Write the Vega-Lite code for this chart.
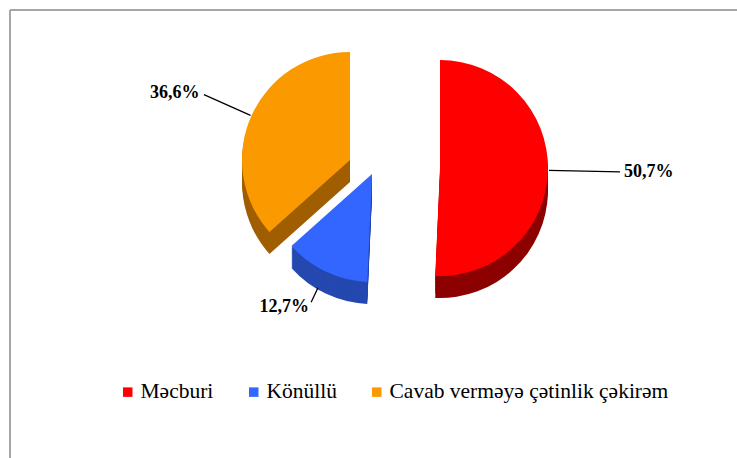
{
  "$schema": "https://vega.github.io/schema/vega-lite/v6.json",
  "width": 737,
  "height": 458,
  "autosize": {"type": "fit", "contains": "padding"},
  "padding": {"left": 10, "top": 10, "right": 0, "bottom": 0},
  "background": "white",
  "view": {"stroke": "#a6a6a6", "strokeWidth": 2, "strokeDash": [727, 1175, 448, 0]},
  "config": {
    "legend": {
      "orient": "none",
      "legendX": 107,
      "legendY": 371,
      "direction": "horizontal",
      "symbolType": "square",
      "symbolSize": 90,
      "symbolStrokeWidth": 0,
      "labelFont": "Liberation Serif",
      "labelFontSize": 21.5,
      "labelColor": "#000000",
      "labelLimit": 400,
      "labelOffset": 2,
      "columnPadding": 29
    }
  },
  "data": {
    "values": [
      {"category": "Məcburi", "value": 50.7},
      {"category": "Könüllü", "value": 12.7},
      {"category": "Cavab verməyə çətinlik  çəkirəm", "value": 36.6}
    ]
  },
  "transform": [
    {"stack": "value", "groupby": [], "as": ["start", "end"]},
    {"calculate": "(datum.start + datum.end) / 2", "as": "mid"},
    {"calculate": "replace(format(datum.value, '.1f'), '.', ',') + '%'", "as": "label"}
  ],
  "encoding": {
    "theta": {"field": "start", "type": "quantitative", "stack": null, "scale": {"domain": [0, 100], "range": [0, 6.283185]}},
    "theta2": {"field": "end"}
  },
  "layer": [
    {"transform": [{"filter": "datum.category === 'Cavab verməyə çətinlik  çəkirəm'"}], "mark": {"type": "arc", "radius": 108, "fill": "#A05E00", "xOffset": -23.5, "yOffset": -52}},
    {"transform": [{"filter": "datum.category === 'Cavab verməyə çətinlik  çəkirəm'"}], "mark": {"type": "arc", "radius": 108, "fill": "#A05E00", "xOffset": -23.5, "yOffset": -55}},
    {"transform": [{"filter": "datum.category === 'Cavab verməyə çətinlik  çəkirəm'"}], "mark": {"type": "arc", "radius": 108, "fill": "#A05E00", "xOffset": -23.5, "yOffset": -58}},
    {"transform": [{"filter": "datum.category === 'Cavab verməyə çətinlik  çəkirəm'"}], "mark": {"type": "arc", "radius": 108, "fill": "#A05E00", "xOffset": -23.5, "yOffset": -61}},
    {"transform": [{"filter": "datum.category === 'Cavab verməyə çətinlik  çəkirəm'"}], "mark": {"type": "arc", "radius": 108, "fill": "#A05E00", "xOffset": -23.5, "yOffset": -64}},
    {"transform": [{"filter": "datum.category === 'Cavab verməyə çətinlik  çəkirəm'"}], "mark": {"type": "arc", "radius": 108, "fill": "#A05E00", "xOffset": -23.5, "yOffset": -67}},
    {"transform": [{"filter": "datum.category === 'Cavab verməyə çətinlik  çəkirəm'"}], "mark": {"type": "arc", "radius": 108, "fill": "#A05E00", "xOffset": -23.5, "yOffset": -70}},
    {"transform": [{"filter": "datum.category === 'Cavab verməyə çətinlik  çəkirəm'"}], "mark": {"type": "arc", "radius": 108, "fill": "#A05E00", "xOffset": -23.5, "yOffset": -72}},
    {"transform": [{"filter": "datum.category === 'Cavab verməyə çətinlik  çəkirəm'"}], "mark": {"type": "arc", "radius": 108, "xOffset": -23.5, "yOffset": -74},
     "encoding": {"color": {"field": "category", "type": "nominal", "scale": {"domain": ["Məcburi", "Könüllü", "Cavab verməyə çətinlik  çəkirəm"], "range": ["#FF0000", "#3366FF", "#FA9A00"]}, "legend": {"title": null}}}},
    {"transform": [{"filter": "datum.category === 'Məcburi'"}], "mark": {"type": "arc", "radius": 108, "fill": "#8C0000", "xOffset": 66.5, "yOffset": -44}},
    {"transform": [{"filter": "datum.category === 'Məcburi'"}], "mark": {"type": "arc", "radius": 108, "fill": "#8C0000", "xOffset": 66.5, "yOffset": -48}},
    {"transform": [{"filter": "datum.category === 'Məcburi'"}], "mark": {"type": "arc", "radius": 108, "fill": "#8C0000", "xOffset": 66.5, "yOffset": -51}},
    {"transform": [{"filter": "datum.category === 'Məcburi'"}], "mark": {"type": "arc", "radius": 108, "fill": "#8C0000", "xOffset": 66.5, "yOffset": -55}},
    {"transform": [{"filter": "datum.category === 'Məcburi'"}], "mark": {"type": "arc", "radius": 108, "fill": "#8C0000", "xOffset": 66.5, "yOffset": -59}},
    {"transform": [{"filter": "datum.category === 'Məcburi'"}], "mark": {"type": "arc", "radius": 108, "fill": "#8C0000", "xOffset": 66.5, "yOffset": -62}},
    {"transform": [{"filter": "datum.category === 'Məcburi'"}], "mark": {"type": "arc", "radius": 108, "xOffset": 66.5, "yOffset": -66},
     "encoding": {"color": {"field": "category", "type": "nominal", "scale": {"domain": ["Məcburi", "Könüllü", "Cavab verməyə çətinlik  çəkirəm"], "range": ["#FF0000", "#3366FF", "#FA9A00"]}, "legend": {"title": null}}}},
    {"transform": [{"filter": "datum.category === 'Könüllü'"}], "mark": {"type": "arc", "radius": 108, "fill": "#2448B0", "xOffset": -1.5, "yOffset": -38}},
    {"transform": [{"filter": "datum.category === 'Könüllü'"}], "mark": {"type": "arc", "radius": 108, "fill": "#2448B0", "xOffset": -1.5, "yOffset": -40}},
    {"transform": [{"filter": "datum.category === 'Könüllü'"}], "mark": {"type": "arc", "radius": 108, "fill": "#2448B0", "xOffset": -1.5, "yOffset": -42}},
    {"transform": [{"filter": "datum.category === 'Könüllü'"}], "mark": {"type": "arc", "radius": 108, "fill": "#2448B0", "xOffset": -1.5, "yOffset": -44}},
    {"transform": [{"filter": "datum.category === 'Könüllü'"}], "mark": {"type": "arc", "radius": 108, "fill": "#2448B0", "xOffset": -1.5, "yOffset": -46}},
    {"transform": [{"filter": "datum.category === 'Könüllü'"}], "mark": {"type": "arc", "radius": 108, "fill": "#2448B0", "xOffset": -1.5, "yOffset": -48}},
    {"transform": [{"filter": "datum.category === 'Könüllü'"}], "mark": {"type": "arc", "radius": 108, "fill": "#2448B0", "xOffset": -1.5, "yOffset": -50}},
    {"transform": [{"filter": "datum.category === 'Könüllü'"}], "mark": {"type": "arc", "radius": 108, "fill": "#2448B0", "xOffset": -1.5, "yOffset": -52}},
    {"transform": [{"filter": "datum.category === 'Könüllü'"}], "mark": {"type": "arc", "radius": 108, "fill": "#2448B0", "xOffset": -1.5, "yOffset": -54}},
    {"transform": [{"filter": "datum.category === 'Könüllü'"}], "mark": {"type": "arc", "radius": 108, "fill": "#2448B0", "xOffset": -1.5, "yOffset": -56}},
    {"transform": [{"filter": "datum.category === 'Könüllü'"}], "mark": {"type": "arc", "radius": 108, "fill": "#2448B0", "xOffset": -1.5, "yOffset": -58}},
    {"transform": [{"filter": "datum.category === 'Könüllü'"}], "mark": {"type": "arc", "radius": 108, "xOffset": -1.5, "yOffset": -60},
     "encoding": {"color": {"field": "category", "type": "nominal", "scale": {"domain": ["Məcburi", "Könüllü", "Cavab verməyə çətinlik  çəkirəm"], "range": ["#FF0000", "#3366FF", "#FA9A00"]}, "legend": {"title": null}}}},
    {"transform": [{"filter": "datum.category === 'Məcburi'"}], "mark": {"type": "arc", "radius": 180, "radius2": 109, "fill": "transparent", "stroke": "#000000", "strokeWidth": 1.3, "xOffset": 66.5, "yOffset": -66},
     "encoding": {"theta": {"field": "mid", "type": "quantitative"}, "theta2": {"field": "mid"}}},
    {"transform": [{"filter": "datum.category === 'Cavab verməyə çətinlik  çəkirəm'"}], "mark": {"type": "arc", "radius": 160, "radius2": 109, "fill": "transparent", "stroke": "#000000", "strokeWidth": 1.3, "xOffset": -23.5, "yOffset": -74},
     "encoding": {"theta": {"field": "mid", "type": "quantitative"}, "theta2": {"field": "mid"}}},
    {"transform": [{"filter": "datum.category === 'Könüllü'"}], "mark": {"type": "arc", "radius": 142, "radius2": 126, "fill": "transparent", "stroke": "#000000", "strokeWidth": 1.3, "xOffset": -1.5, "yOffset": -60},
     "encoding": {"theta": {"field": "mid", "type": "quantitative"}, "theta2": {"field": "mid"}}},
    {"transform": [{"filter": "datum.category === 'Məcburi'"}], "mark": {"type": "text", "radius": 184, "align": "left", "baseline": "middle", "font": "Liberation Serif", "fontWeight": "bold", "fontSize": 18, "color": "#000000", "xOffset": 66.5, "yOffset": -66},
     "encoding": {"theta": {"field": "mid", "type": "quantitative"}, "theta2": null, "text": {"field": "label"}}},
    {"transform": [{"filter": "datum.category === 'Cavab verməyə çətinlik  çəkirəm'"}], "mark": {"type": "text", "radius": 165, "align": "right", "baseline": "middle", "font": "Liberation Serif", "fontWeight": "bold", "fontSize": 18, "color": "#000000", "xOffset": -23.5, "yOffset": -74},
     "encoding": {"theta": {"field": "mid", "type": "quantitative"}, "theta2": null, "text": {"field": "label"}}},
    {"transform": [{"filter": "datum.category === 'Könüllü'"}], "mark": {"type": "text", "radius": 147, "align": "right", "baseline": "middle", "font": "Liberation Serif", "fontWeight": "bold", "fontSize": 18, "color": "#000000", "xOffset": -1.5, "yOffset": -60},
     "encoding": {"theta": {"field": "mid", "type": "quantitative"}, "theta2": null, "text": {"field": "label"}}}
  ]
}
